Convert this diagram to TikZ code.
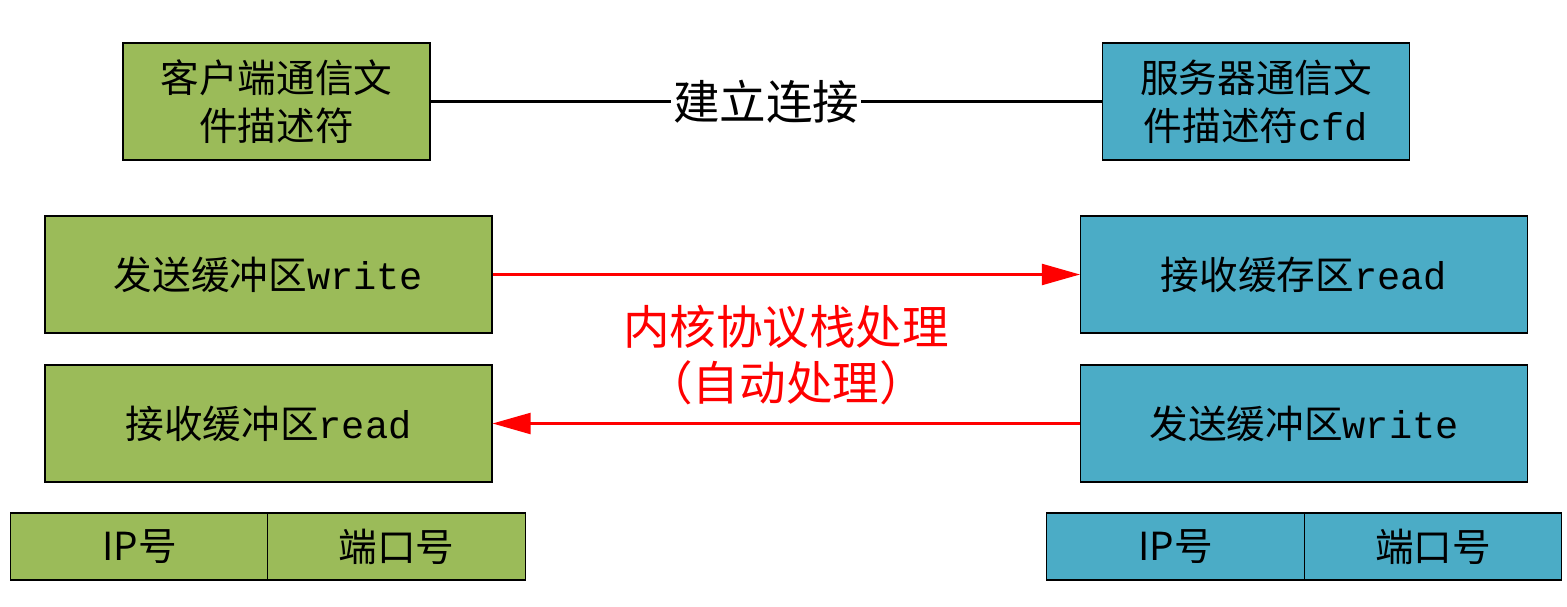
\documentclass[tikz,border=0pt]{standalone}
\usepackage{fontspec}
\setmainfont{Noto Sans CJK SC}
\setmonofont{Liberation Mono}
\usetikzlibrary{arrows.meta}
\definecolor{clientgreen}{RGB}{155, 187, 89}
\definecolor{serverblue}{RGB}{75, 172, 198}

\begin{document}
\begin{tikzpicture}[
        box/.style={draw, line width=0.6pt, inner sep=0pt, align=center, font=\fontsize{22}{27}\selectfont},
        fdbox/.style={box, minimum width=6.14cm, minimum height=2.34cm},
        bufbox/.style={box, minimum width=8.94cm, minimum height=2.34cm},
        addrbox/.style={box, minimum width=5.15cm, minimum height=1.34cm},
        kernel/.style={red, line width=1.2pt, -{Triangle[length=0.76cm, width=0.42cm]}}
      ]
        \useasboundingbox (0,0) rectangle (31.34,-12.12);
        % file descriptors
        \node[fdbox, fill=clientgreen] (clientfd) at (5.53,-2.03) {客户端通信文\\件描述符};
        \node[fdbox, fill=serverblue] (serverfd) at (25.12,-2.03) {服务器通信文\\件描述符\texttt{cfd}};
        \draw[line width=1.2pt] (clientfd.east) -- (serverfd.west)
          node[midway, fill=white, inner sep=1pt, font=\fontsize{26.5}{30}\selectfont] (connect) {建立连接};
        % buffers
        \node[bufbox, fill=clientgreen] (clientsend) at (5.37,-5.49) {发送缓冲区\texttt{write}};
        \node[bufbox, fill=clientgreen] (clientrecv) at (5.37,-8.47) {接收缓冲区\texttt{read}};
        \node[bufbox, fill=serverblue] (serverrecv) at (26.08,-5.49) {接收缓存区\texttt{read}};
        \node[bufbox, fill=serverblue] (serversend) at (26.08,-8.47) {发送缓冲区\texttt{write}};
        \draw[kernel] (clientsend) -- (serverrecv);
        \draw[kernel] (serversend) -- (clientrecv);
        \node[red, align=center, font=\fontsize{26.5}{31.8}\selectfont] (stack) at (15.72,-7.10) {内核协议栈处理\\（自动处理）};
        % ip and port
        \node[addrbox, fill=clientgreen] (clientip) at (2.79,-10.93) {IP号};
        \node[addrbox, fill=clientgreen] (clientport) at (7.93,-10.93) {端口号};
        \node[addrbox, fill=serverblue] (serverip) at (23.51,-10.93) {IP号};
        \node[addrbox, fill=serverblue] (serverport) at (28.66,-10.93) {端口号};
      \end{tikzpicture}
\end{document}
